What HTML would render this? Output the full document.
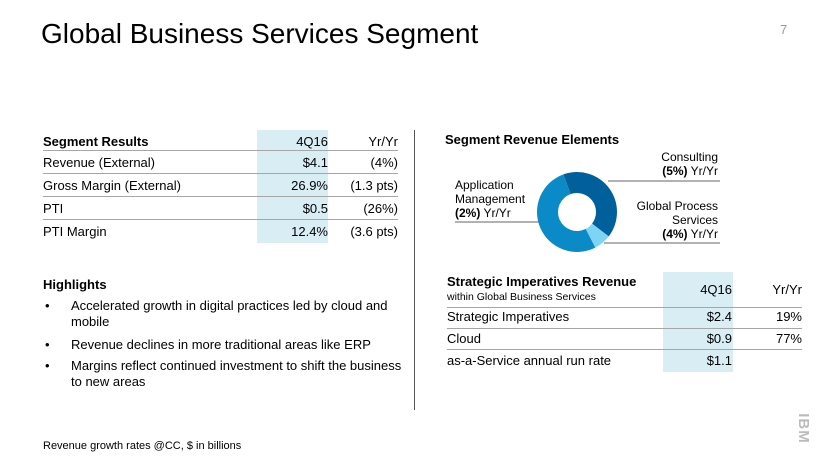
<!DOCTYPE html>
<html><head><meta charset="utf-8"><style>
body{margin:0;width:830px;height:467px;overflow:hidden;background:#fff;font-family:"Liberation Sans",sans-serif;color:#000;position:relative}
.a{position:absolute;white-space:nowrap}
.r{text-align:right}
.hl{position:absolute;background:#d9edf5}
.ln{position:absolute;height:1px;background:#a6a6a6}
.t{font-size:13px}
</style></head><body>
<div class="a" style="left:41px;top:18px;font-size:28px">Global Business Services Segment</div>
<div class="a" style="left:780px;top:22px;font-size:13px;color:#999">7</div>

<div class="hl" style="left:257px;top:130px;width:71px;height:113px"></div>
<div>
<div class="a t" style="left:43px;top:134px;font-weight:bold">Segment Results</div>
<div class="a t r" style="left:258px;width:70px;top:134px">4Q16</div>
<div class="a t r" style="left:330px;width:68px;top:134px">Yr/Yr</div>
<div class="ln" style="left:43px;width:355px;top:150px"></div>
<div class="a t" style="left:43px;top:155px">Revenue (External)</div>
<div class="a t r" style="left:258px;width:70px;top:155px">$4.1</div>
<div class="a t r" style="left:330px;width:68px;top:155px">(4%)</div>
<div class="ln" style="left:43px;width:355px;top:173px"></div>
<div class="a t" style="left:43px;top:178px">Gross Margin (External)</div>
<div class="a t r" style="left:258px;width:70px;top:178px">26.9%</div>
<div class="a t r" style="left:330px;width:68px;top:178px">(1.3 pts)</div>
<div class="ln" style="left:43px;width:355px;top:196px"></div>
<div class="a t" style="left:43px;top:201px">PTI</div>
<div class="a t r" style="left:258px;width:70px;top:201px">$0.5</div>
<div class="a t r" style="left:330px;width:68px;top:201px">(26%)</div>
<div class="ln" style="left:43px;width:355px;top:219px"></div>
<div class="a t" style="left:43px;top:224px">PTI Margin</div>
<div class="a t r" style="left:258px;width:70px;top:224px">12.4%</div>
<div class="a t r" style="left:330px;width:68px;top:224px">(3.6 pts)</div>
</div>

<div>
<div class="a t" style="left:43px;top:277px;font-weight:bold">Highlights</div>
<div class="a t" style="left:45px;top:298px">•</div>
<div class="a t" style="left:71px;top:298px;line-height:16px">Accelerated growth in digital practices led by cloud and<br>mobile</div>
<div class="a t" style="left:45px;top:337px">•</div>
<div class="a t" style="left:71px;top:337px">Revenue declines in more traditional areas like ERP</div>
<div class="a t" style="left:45px;top:358px">•</div>
<div class="a t" style="left:71px;top:358px;line-height:16px">Margins reflect continued investment to shift the business<br>to new areas</div>
</div>

<div style="position:absolute;left:414px;top:130px;width:1px;height:280px;background:#555"></div>

<div class="a t" style="left:445px;top:132px;font-weight:bold">Segment Revenue Elements</div>
<svg class="a" width="830" height="467" style="left:0;top:0" id="svg"></svg>
<div class="a r" style="left:600px;width:118px;top:150px;font-size:12px;line-height:14px">Consulting<br><b>(5%)</b> Yr/Yr</div>
<div class="a r" style="left:600px;width:118px;top:199px;font-size:12px;line-height:14px">Global Process<br>Services<br><b>(4%)</b> Yr/Yr</div>
<div class="a" style="left:455px;top:178px;font-size:12px;line-height:14px">Application<br>Management<br><b>(2%)</b> Yr/Yr</div>

<div class="hl" style="left:663px;top:272px;width:70px;height:100px"></div>
<div>
<div class="a t" style="left:447px;top:274px;font-weight:bold">Strategic Imperatives Revenue</div>
<div class="a" style="left:447px;top:291px;font-size:10.5px">within Global Business Services</div>
<div class="a t r" style="left:663px;width:69px;top:282px">4Q16</div>
<div class="a t r" style="left:735px;width:67px;top:282px">Yr/Yr</div>
<div class="ln" style="left:447px;width:355px;top:307px"></div>
<div class="a t" style="left:447px;top:309px">Strategic Imperatives</div>
<div class="a t r" style="left:663px;width:69px;top:309px">$2.4</div>
<div class="a t r" style="left:735px;width:67px;top:309px">19%</div>
<div class="ln" style="left:447px;width:355px;top:328px"></div>
<div class="a t" style="left:447px;top:331px">Cloud</div>
<div class="a t r" style="left:663px;width:69px;top:331px">$0.9</div>
<div class="a t r" style="left:735px;width:67px;top:331px">77%</div>
<div class="ln" style="left:447px;width:355px;top:349px"></div>
<div class="a t" style="left:447px;top:353px">as-a-Service annual run rate</div>
<div class="a t r" style="left:663px;width:69px;top:353px">$1.1</div>
</div>

<div class="a" style="left:43px;top:440px;font-size:11px">Revenue growth rates @CC, $ in billions</div>
<div class="a" style="left:788px;top:420px;font-size:15px;font-weight:bold;color:#bbb;transform:rotate(90deg);letter-spacing:1px">IBM</div>

<script>
const segments=["Consulting","Global Process Services","Application Management"];
const shares=[41,7,52];
const colors=["#00609c","#7fd3f5","#0a8bc7"];
const svg=document.getElementById('svg');
const NS="http://www.w3.org/2000/svg";
const cx=577,cy=212,R=40,r=19,start=-20;
const total=shares.reduce((a,b)=>a+b,0);
function pt(deg,rad){const a=(deg-90)*Math.PI/180;return [cx+rad*Math.cos(a),cy+rad*Math.sin(a)];}
let ang=start;
shares.forEach((v,i)=>{
  const sw=v/total*360,e=ang+sw,lg=sw>180?1:0;
  const [x1,y1]=pt(ang,R),[x2,y2]=pt(e,R),[x3,y3]=pt(e,r),[x4,y4]=pt(ang,r);
  const p=document.createElementNS(NS,'path');
  p.setAttribute('d',`M${x1},${y1}A${R},${R} 0 ${lg} 1 ${x2},${y2}L${x3},${y3}A${r},${r} 0 ${lg} 0 ${x4},${y4}Z`);
  p.setAttribute('fill',colors[i]);
  
  
  svg.appendChild(p);
  ang=e;
});
[[608,181,720],[604,243,720],[455,222,539]].forEach(l=>{
  const ln=document.createElementNS(NS,'line');
  ln.setAttribute('x1',l[0]);ln.setAttribute('x2',l[2]);ln.setAttribute('y1',l[1]);ln.setAttribute('y2',l[1]);
  ln.setAttribute('stroke','#666');ln.setAttribute('stroke-width','1');
  
  
  svg.appendChild(ln);
});
</script>
</body></html>
